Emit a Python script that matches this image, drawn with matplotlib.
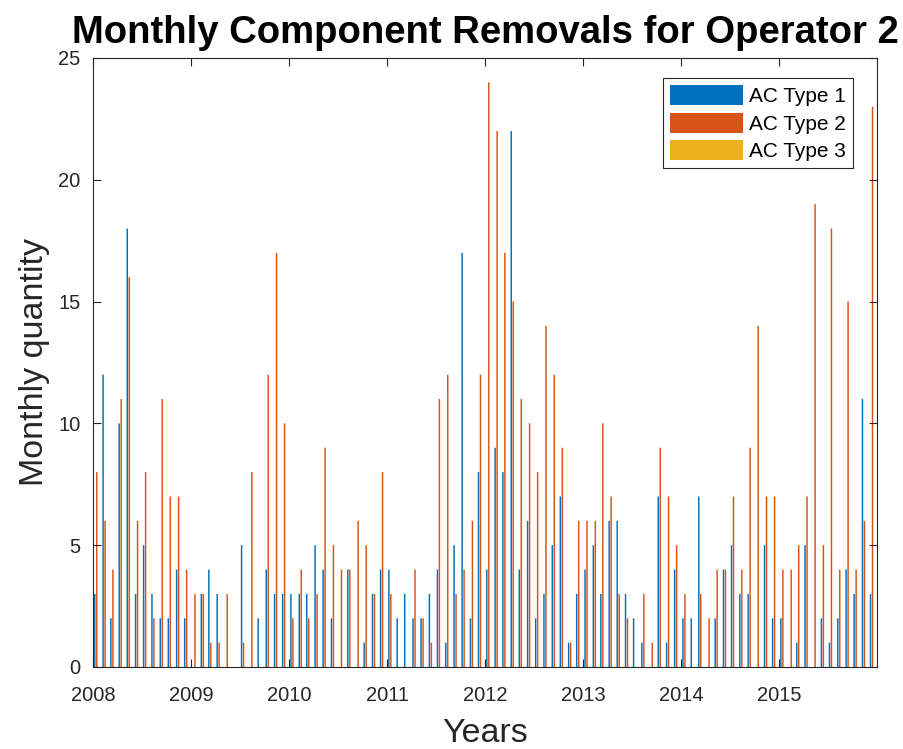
import numpy as np
import pandas as pd
import matplotlib
matplotlib.use('Agg')
import matplotlib.pyplot as plt
import matplotlib.dates as mdates
from matplotlib.patches import Patch

plt.rcParams['font.family'] = ['Liberation Sans', 'DejaVu Sans']

# monthly removals, Jan 2008 .. Dec 2015
type1 = [3, 12, 2, 10, 18, 3, 5, 3, 2, 2, 4, 2,
         0, 3, 4, 3, 0, 0, 5, 0, 2, 4, 3, 3,
         3, 3, 3, 5, 4, 2, 0, 4, 0, 1, 3, 4,
         4, 2, 3, 2, 2, 3, 4, 1, 5, 17, 2, 8,
         4, 9, 8, 22, 4, 6, 2, 3, 5, 7, 1, 3,
         4, 5, 3, 6, 6, 3, 2, 1, 0, 7, 1, 4,
         2, 2, 7, 0, 2, 4, 5, 3, 3, 0, 5, 2,
         2, 0, 1, 5, 0, 2, 1, 2, 4, 3, 11, 3]
type2 = [8, 6, 4, 11, 16, 6, 8, 2, 11, 7, 7, 4,
         3, 3, 1, 1, 3, 0, 1, 8, 0, 12, 17, 10,
         2, 4, 2, 3, 9, 5, 4, 4, 6, 5, 3, 8,
         3, 0, 0, 4, 2, 1, 11, 12, 3, 4, 6, 12,
         24, 22, 17, 15, 11, 10, 8, 14, 12, 9, 1, 6,
         6, 6, 10, 7, 3, 2, 0, 3, 1, 9, 7, 5,
         3, 0, 3, 2, 4, 4, 7, 4, 9, 14, 7, 7,
         4, 4, 5, 7, 19, 5, 18, 4, 15, 4, 6, 23]
type3 = [0, 0, 0, 0, 0, 0, 0, 0, 0, 0, 0, 0,
         0, 0, 0, 0, 0, 0, 0, 0, 0, 0, 0, 0,
         0, 0, 0, 0, 0, 0, 0, 0, 0, 0, 0, 0,
         0, 0, 0, 0, 0, 0, 0, 0, 0, 0, 0, 0,
         0, 0, 0, 0, 0, 0, 0, 0, 0, 0, 0, 0,
         0, 0, 0, 0, 0, 0, 0, 0, 0, 0, 0, 0,
         0, 0, 0, 0, 0, 0, 0, 0, 0, 0, 0, 0,
         0, 0, 0, 0, 0, 0, 0, 0, 0, 0, 0, 0]
series_names = ['AC Type 1', 'AC Type 2', 'AC Type 3']
colors = ['#0072BD', '#D95319', '#EDB120']
years = list(range(2008, 2016))

months = pd.date_range('2008-01-01', periods=len(type1), freq='MS') + pd.Timedelta(days=14)
x = mdates.date2num(months.to_pydatetime())

fig = plt.figure(figsize=(9.04, 7.49), dpi=100)
ax = fig.add_axes([0.1029, 0.1095, 0.8673, 0.8131])

offset = 7.4
width = 5.5
for i, vals in enumerate([type1, type2, type3]):
    bars = ax.bar(x + (i - 1) * offset, vals, width=width, color=colors[i], linewidth=0)
    for b in bars:
        b.set_snap(False)

ax.set_xlim(mdates.date2num(pd.Timestamp('2008-01-01')), mdates.date2num(pd.Timestamp('2016-01-01')))
ax.set_ylim(0, 25)
ax.set_xticks([mdates.date2num(pd.Timestamp(f'{y}-01-01')) for y in years])
ax.set_xticklabels([str(y) for y in years])
ax.set_yticks([0, 5, 10, 15, 20, 25])

ax.tick_params(direction='in', length=6, width=0.8, top=True, right=True,
               labelsize=14.5, colors='#262626')
ax.tick_params(axis='x', pad=14)
ax.tick_params(axis='y', pad=9)
for s in ax.spines.values():
    s.set_color('#262626')
    s.set_linewidth(0.8)

ax.set_xlabel('Years', fontsize=24.5, color='#262626', labelpad=9)
ax.set_ylabel('Monthly quantity', fontsize=24.5, color='#262626', labelpad=6)
ax.set_title('Monthly Component Removals for Operator 2', fontsize=27.5,
             fontweight='bold', pad=11)

handles = [Patch(facecolor=c, edgecolor='none') for c in colors]
leg = ax.legend(handles, series_names, loc='upper right', fontsize=15,
                handlelength=3.5, handleheight=1.1, handletextpad=0.25,
                labelspacing=0.3, borderpad=0.35, borderaxespad=0,
                fancybox=False, framealpha=1, bbox_to_anchor=(0.969, 0.967))
leg.get_frame().set_edgecolor('#262626')
leg.get_frame().set_linewidth(0.8)

fig.savefig('out.png', dpi=100)
